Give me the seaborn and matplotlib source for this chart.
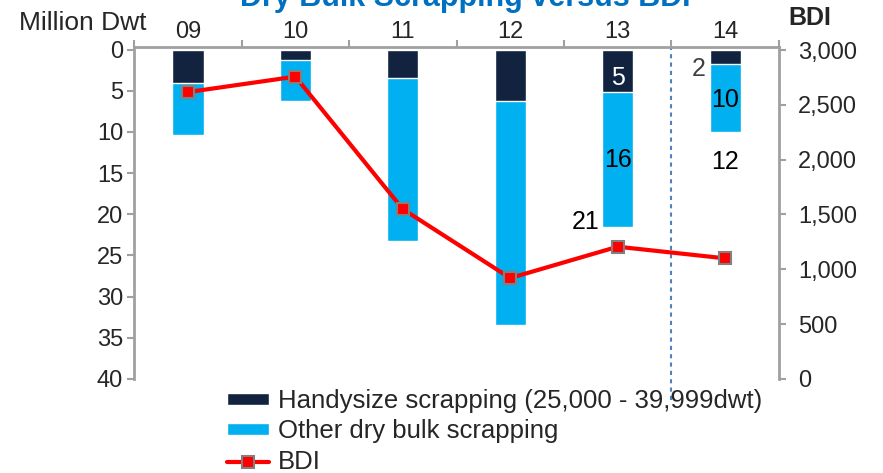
# Dry bulk scrapping vs BDI - stacked bars hanging from the top + BDI line

import numpy as np
import pandas as pd
import matplotlib
matplotlib.use("Agg")
import matplotlib.pyplot as plt
import seaborn as sns

# ---------------- data ----------------
years = ["09", "10", "11", "12", "13", "14"]
handysize = [4.0, 1.2, 3.4, 6.2, 5.1, 1.7]
other = [6.4, 5.0, 19.8, 27.3, 16.5, 8.3]
bdi = [2617, 2758, 1549, 920, 1206, 1100]

# value labels shown only on the last two bars
label_13 = ["5", "16", "21"]
label_14 = ["2", "10", "12"]

NAVY = "#12233F"
CYAN = "#00B0F0"
GRID_GREY = "#A0A0A0"

df = pd.DataFrame({
    "year": years,
    "handysize": handysize,
    "other": other,
    "bdi": bdi,
})
df["total"] = df["handysize"] + df["other"]

# ---------------- figure ----------------
sns.set_theme(style="white")
plt.rcParams["font.family"] = ["Liberation Sans", "DejaVu Sans"]

fig = plt.figure(figsize=(8.83, 4.73), dpi=100)
ax = fig.add_axes([0.152, 0.199, 0.730, 0.702])

sns.barplot(data=df, x="year", y="total", color=CYAN, width=0.29,
            saturation=1, ax=ax, label="Other dry bulk scrapping")
sns.barplot(data=df, x="year", y="handysize", color=NAVY, width=0.29,
            saturation=1, ax=ax, label="Handysize scrapping (25,000 - 39,999dwt)")

ax.set_ylim(40, -0.35)
ax.set_xlim(-0.5, 5.5)
ax.set_yticks(range(0, 41, 5))
ax.set_xlabel("")
ax.set_ylabel("")
ax.xaxis.tick_top()
ax.set_xticks(range(len(years)))
ax.set_xticklabels(years)
ax.set_xticks(np.arange(-0.5, 5.6, 1), minor=True)
ax.tick_params(axis="x", which="major", length=0, labelsize=17, pad=3)
ax.tick_params(axis="x", which="minor", length=5, color=GRID_GREY, width=1.5, direction="out")
ax.tick_params(axis="y", length=5, color=GRID_GREY, width=1.5, labelsize=17, direction="out", pad=3)

for side in ["bottom", "right"]:
    ax.spines[side].set_visible(False)
for side in ["top", "left"]:
    ax.spines[side].set_color(GRID_GREY)
    ax.spines[side].set_linewidth(2)

# ---------------- BDI line on right axis ----------------
ax2 = ax.twinx()
sns.lineplot(x=np.arange(len(years)), y=bdi, ax=ax2, color="red", linewidth=3,
             marker="s", markersize=9, markerfacecolor="red",
             markeredgecolor="#808080", markeredgewidth=1.5, label="BDI")
ax2.set_ylim(0, 3030)
ax2.set_yticks(range(0, 3001, 500))
ax2.set_yticklabels([f"{v:,}" for v in range(0, 3001, 500)])
ax2.tick_params(axis="y", length=5, color=GRID_GREY, width=1.5, labelsize=17, direction="out", pad=9)
ax2.set_xlim(-0.5, 5.5)
for side in ["top", "bottom", "left"]:
    ax2.spines[side].set_visible(False)
ax2.spines["right"].set_color(GRID_GREY)
ax2.spines["right"].set_linewidth(2)
ax2.get_legend().remove()

# dashed divider between actual and forecast year
ax.axvline(4.5, ymin=-0.065, ymax=1.0, color="#4F81BD", linestyle=(0, (2, 2)),
           linewidth=1.5, clip_on=False)

# ---------------- value labels ----------------
ax.text(4, 3.4, label_13[0], color="white", fontsize=18, ha="center", va="center")
ax.text(4, 13.4, label_13[1], color="black", fontsize=18, ha="center", va="center")
ax.text(3.83, 20.9, label_13[2], color="black", fontsize=18, ha="right", va="center")
ax.text(4.82, 2.3, label_14[0], color="#404040", fontsize=18, ha="right", va="center")
ax.text(5.0, 6.1, label_14[1], color="black", fontsize=18, ha="center", va="center")
ax.text(5.0, 13.6, label_14[2], color="black", fontsize=18, ha="center", va="center")

# ---------------- titles ----------------
# title is partly cropped at the top edge, as in the source slide
fig.text(0.527, 0.988, "Dry Bulk Scrapping versus BDI", color="#0070C0",
         fontsize=22, fontweight="bold", ha="center", va="baseline")
fig.text(0.022, 0.952, "Million Dwt", fontsize=19, ha="left", va="center")
fig.text(0.893, 0.963, "BDI", fontsize=18, fontweight="bold", ha="left", va="center")

# ---------------- legend ----------------
h1, l1 = ax.get_legend_handles_labels()
h2, l2 = ax2.get_legend_handles_labels()
if ax.get_legend() is not None:
    ax.get_legend().remove()
handles = [h1[1], h1[0], h2[0]]
labels = [l1[1], l1[0], l2[0]]
fig.legend(handles, labels, loc="upper left", bbox_to_anchor=(0.257, 0.178),
           frameon=False, fontsize=18.5, handlelength=1.65, handleheight=0.35,
           handletextpad=0.35, labelspacing=0.26, borderpad=0, borderaxespad=0)

fig.savefig("out.png", dpi=100)
